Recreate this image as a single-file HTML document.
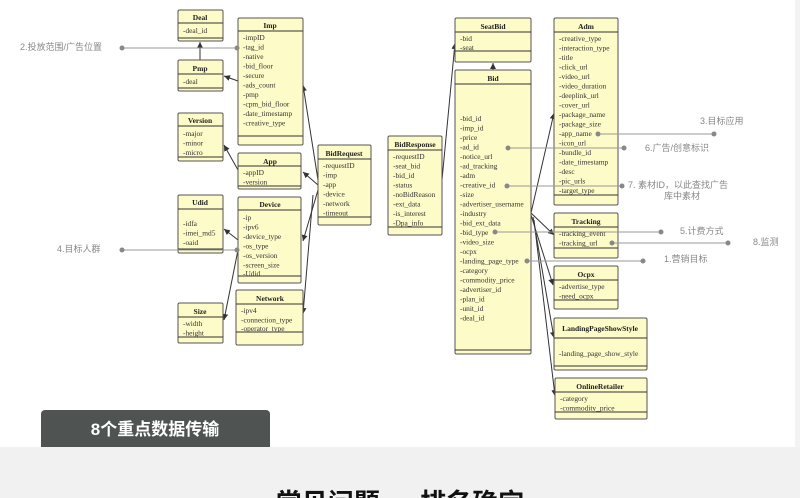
<!DOCTYPE html>
<html><head><meta charset="utf-8"><style>
html,body{margin:0;padding:0;width:800px;height:498px;overflow:hidden;background:#fff;position:relative}
svg.main{position:absolute;left:0;top:0}
.b{fill:#fdfbc7;stroke:#555;stroke-width:1}
.h{font:bold 7.5px "Liberation Serif",serif;fill:#222;text-anchor:middle}
.r{font:7.4px "Liberation Serif",serif;fill:#333}
.a{font:9px "Liberation Sans","Noto Sans CJK SC",sans-serif;fill:#888}
.l{stroke:#999;stroke-width:1}
.d{fill:#888}
.c{stroke:#333;stroke-width:1;fill:none}
.bot{position:absolute;left:0;top:478px;width:800px;height:20px;overflow:hidden}
.bot div{position:absolute;left:0;top:10px;width:800px;height:10px;line-height:30px;text-align:center;font:bold 26px/30px "Liberation Sans","Noto Sans CJK SC",sans-serif;color:#111;white-space:nowrap}
</style></head><body>
<svg class="main" width="800" height="498" viewBox="0 0 800 498" overflow="hidden">
<defs><marker id="m" markerWidth="7" markerHeight="7" refX="6" refY="3" orient="auto" markerUnits="userSpaceOnUse"><path d="M0,0L6,3L0,6z" fill="#333"/></marker></defs>
<rect x="0" y="447" width="800" height="51" fill="#f1f1f1"/>
<rect x="795" y="0" width="5" height="447" fill="#f3f3f3"/>

<g class="c" marker-end="url(#m)">
<line x1="200" y1="60" x2="200" y2="42"/>
<line x1="238" y1="81" x2="224" y2="76"/>
<line x1="318" y1="180" x2="303" y2="85"/>
<line x1="318" y1="185" x2="303" y2="172"/>
<line x1="238" y1="170" x2="224" y2="145"/>
<line x1="318" y1="190" x2="303" y2="241"/>
<line x1="313" y1="195" x2="303" y2="314"/>
<line x1="238" y1="240" x2="224" y2="229"/>
<line x1="238" y1="250" x2="224" y2="320"/>
<line x1="442" y1="180" x2="455" y2="43"/>
<line x1="493" y1="70" x2="493" y2="63"/>
<line x1="531" y1="213" x2="554" y2="113"/>
<line x1="531" y1="213" x2="554" y2="235"/>
<line x1="531" y1="215" x2="553" y2="285"/>
<line x1="533" y1="217" x2="554" y2="338"/>
<line x1="534" y1="220" x2="555" y2="396"/>
</g>

<g>
<rect class="b" x="178" y="10" width="45" height="31" rx="1.5"/><line class="c" x1="178" y1="23" x2="223" y2="23"/><line class="c" x1="178" y1="38" x2="223" y2="38"/>
<text class="h" x="200" y="20">Deal</text><text class="r" x="183" y="33">-deal_id</text>

<rect class="b" x="178" y="60" width="45" height="31" rx="1.5"/><line class="c" x1="178" y1="74" x2="223" y2="74"/><line class="c" x1="178" y1="88" x2="223" y2="88"/>
<text class="h" x="200" y="71">Pmp</text><text class="r" x="183" y="84">-deal</text>

<rect class="b" x="178" y="113" width="45" height="48" rx="1.5"/><line class="c" x1="178" y1="126" x2="223" y2="126"/><line class="c" x1="178" y1="157" x2="223" y2="157"/>
<text class="h" x="200" y="123">Version</text><text class="r" x="183" y="136">-major</text><text class="r" x="183" y="145.5">-minor</text><text class="r" x="183" y="155">-micro</text>

<rect class="b" x="178" y="195" width="45" height="58" rx="1.5"/><line class="c" x1="178" y1="209" x2="223" y2="209"/><line class="c" x1="178" y1="249" x2="223" y2="249"/>
<text class="h" x="200" y="205">Udid</text><text class="r" x="183" y="226">-idfa</text><text class="r" x="183" y="235.5">-imei_md5</text><text class="r" x="183" y="245">-oaid</text>

<rect class="b" x="178" y="303" width="45" height="40" rx="1.5"/><line class="c" x1="178" y1="317" x2="223" y2="317"/><line class="c" x1="178" y1="337" x2="223" y2="337"/>
<text class="h" x="200" y="314">Size</text><text class="r" x="183" y="326">-width</text><text class="r" x="183" y="335.5">-height</text>

<rect class="b" x="238" y="18" width="65" height="127" rx="1.5"/><line class="c" x1="238" y1="31" x2="303" y2="31"/><line class="c" x1="238" y1="136" x2="303" y2="136"/>
<text class="h" x="270" y="28">Imp</text>
<text class="r" x="243" y="40">-impID</text><text class="r" x="243" y="49.5">-tag_id</text><text class="r" x="243" y="59">-native</text><text class="r" x="243" y="68.5">-bid_floor</text><text class="r" x="243" y="78">-secure</text><text class="r" x="243" y="87.5">-ads_count</text><text class="r" x="243" y="97">-pmp</text><text class="r" x="243" y="106.5">-cpm_bid_floor</text><text class="r" x="243" y="116">-date_timestamp</text><text class="r" x="243" y="125.5">-creative_type</text>

<rect class="b" x="238" y="153" width="63" height="36" rx="1.5"/><line class="c" x1="238" y1="166" x2="301" y2="166"/><line class="c" x1="238" y1="186" x2="301" y2="186"/>
<text class="h" x="270" y="164">App</text><text class="r" x="243" y="175">-appID</text><text class="r" x="243" y="184.5">-version</text>

<rect class="b" x="238" y="197" width="63" height="86" rx="1.5"/><line class="c" x1="238" y1="210" x2="301" y2="210"/><line class="c" x1="238" y1="276" x2="301" y2="276"/>
<text class="h" x="270" y="207">Device</text>
<text class="r" x="243" y="220">-ip</text><text class="r" x="243" y="229.5">-ipv6</text><text class="r" x="243" y="239">-device_type</text><text class="r" x="243" y="248.5">-os_type</text><text class="r" x="243" y="258">-os_version</text><text class="r" x="243" y="267.5">-screen_size</text><text class="r" x="243" y="276">-Udid</text>

<rect class="b" x="236" y="290" width="67" height="55" rx="1.5"/><line class="c" x1="236" y1="304" x2="303" y2="304"/><line class="c" x1="236" y1="332" x2="303" y2="332"/>
<text class="h" x="270" y="301">Network</text><text class="r" x="241" y="313">-ipv4</text><text class="r" x="241" y="322.5">-connection_type</text><text class="r" x="241" y="331">-operator_type</text>

<rect class="b" x="318" y="145" width="53" height="80" rx="1.5"/><line class="c" x1="318" y1="159" x2="371" y2="159"/><line class="c" x1="318" y1="217" x2="371" y2="217"/>
<text class="h" x="344" y="156">BidRequest</text>
<text class="r" x="323" y="168">-requestID</text><text class="r" x="323" y="177.5">-imp</text><text class="r" x="323" y="187">-app</text><text class="r" x="323" y="196.5">-device</text><text class="r" x="323" y="206">-network</text><text class="r" x="323" y="215.5">-timeout</text>

<rect class="b" x="388" y="136" width="54" height="99" rx="1.5"/><line class="c" x1="388" y1="150" x2="442" y2="150"/><line class="c" x1="388" y1="227" x2="442" y2="227"/>
<text class="h" x="415" y="147">BidResponse</text>
<text class="r" x="393" y="159">-requestID</text><text class="r" x="393" y="168.5">-seat_bid</text><text class="r" x="393" y="178">-bid_id</text><text class="r" x="393" y="187.5">-status</text><text class="r" x="393" y="197">-noBidReason</text><text class="r" x="393" y="206.5">-ext_data</text><text class="r" x="393" y="216">-is_interest</text><text class="r" x="393" y="225.5">-Dpa_info</text>

<rect class="b" x="455" y="18" width="76" height="44" rx="1.5"/><line class="c" x1="455" y1="32" x2="531" y2="32"/><line class="c" x1="455" y1="51" x2="531" y2="51"/>
<text class="h" x="493" y="29">SeatBid</text><text class="r" x="460" y="41">-bid</text><text class="r" x="460" y="50">-seat</text>

<rect class="b" x="455" y="70" width="76" height="284" rx="1.5"/><line class="c" x1="455" y1="84" x2="531" y2="84"/><line class="c" x1="455" y1="350" x2="531" y2="350"/>
<text class="h" x="493" y="81">Bid</text>
<text class="r" x="460" y="121">-bid_id</text><text class="r" x="460" y="130.5">-imp_id</text><text class="r" x="460" y="140">-price</text><text class="r" x="460" y="149.5">-ad_id</text><text class="r" x="460" y="159">-notice_url</text><text class="r" x="460" y="168.5">-ad_tracking</text><text class="r" x="460" y="178">-adm</text><text class="r" x="460" y="187.5">-creative_id</text><text class="r" x="460" y="197">-size</text><text class="r" x="460" y="206.5">-advertiser_username</text><text class="r" x="460" y="216">-industry</text><text class="r" x="460" y="225.5">-bid_ext_data</text><text class="r" x="460" y="235">-bid_type</text><text class="r" x="460" y="244.5">-video_size</text><text class="r" x="460" y="254">-ocpx</text><text class="r" x="460" y="263.5">-landing_page_type</text><text class="r" x="460" y="273">-category</text><text class="r" x="460" y="282.5">-commodity_price</text><text class="r" x="460" y="292">-advertiser_id</text><text class="r" x="460" y="301.5">-plan_id</text><text class="r" x="460" y="311">-unit_id</text><text class="r" x="460" y="320.5">-deal_id</text>

<rect class="b" x="554" y="18" width="64" height="187" rx="1.5"/><line class="c" x1="554" y1="32" x2="618" y2="32"/><line class="c" x1="554" y1="195" x2="618" y2="195"/>
<text class="h" x="586" y="29">Adm</text>
<text class="r" x="559" y="41">-creative_type</text><text class="r" x="559" y="50.5">-interaction_type</text><text class="r" x="559" y="60">-title</text><text class="r" x="559" y="69.5">-click_url</text><text class="r" x="559" y="79">-video_url</text><text class="r" x="559" y="88.5">-video_duration</text><text class="r" x="559" y="98">-deeplink_url</text><text class="r" x="559" y="107.5">-cover_url</text><text class="r" x="559" y="117">-package_name</text><text class="r" x="559" y="126.5">-package_size</text><text class="r" x="559" y="136">-app_name</text><text class="r" x="559" y="145.5">-icon_url</text><text class="r" x="559" y="155">-bundle_id</text><text class="r" x="559" y="164.5">-date_timestamp</text><text class="r" x="559" y="174">-desc</text><text class="r" x="559" y="183.5">-pic_urls</text><text class="r" x="559" y="193">-target_type</text>

<rect class="b" x="554" y="213" width="64" height="45" rx="1.5"/><line class="c" x1="554" y1="227" x2="618" y2="227"/><line class="c" x1="554" y1="248" x2="618" y2="248"/>
<text class="h" x="586" y="224">Tracking</text><text class="r" x="559" y="236">-tracking_event</text><text class="r" x="559" y="245.5">-tracking_url</text>

<rect class="b" x="554" y="266" width="64" height="43" rx="1.5"/><line class="c" x1="554" y1="280" x2="618" y2="280"/><line class="c" x1="554" y1="300" x2="618" y2="300"/>
<text class="h" x="586" y="277">Ocpx</text><text class="r" x="559" y="289">-advertise_type</text><text class="r" x="559" y="298.5">-need_ocpx</text>

<rect class="b" x="554" y="318" width="93" height="52" rx="1.5"/><line class="c" x1="554" y1="338" x2="647" y2="338"/><line class="c" x1="554" y1="366" x2="647" y2="366"/>
<text class="h" x="600" y="331">LandingPageShowStyle</text><text class="r" x="559" y="356">-landing_page_show_style</text>

<rect class="b" x="555" y="378" width="92" height="41" rx="1.5"/><line class="c" x1="555" y1="392" x2="647" y2="392"/><line class="c" x1="555" y1="412" x2="647" y2="412"/>
<text class="h" x="600" y="389">OnlineRetailer</text><text class="r" x="560" y="401">-category</text><text class="r" x="560" y="410.5">-commodity_price</text>
</g>

<g>
<line class="l" x1="122" y1="48" x2="237" y2="48"/><circle class="d" cx="122" cy="48" r="2.5"/><circle class="d" cx="237" cy="48" r="2.5"/>
<text class="a" x="20" y="50">2.投放范围/广告位置</text>
<line class="l" x1="122" y1="250" x2="237" y2="250"/><circle class="d" cx="122" cy="250" r="2.5"/><circle class="d" cx="237" cy="250" r="2.5"/>
<text class="a" x="57" y="252">4.目标人群</text>
<line class="l" x1="598" y1="134" x2="714" y2="134"/><circle class="d" cx="598" cy="134" r="2.5"/><circle class="d" cx="714" cy="134" r="2.5"/>
<text class="a" x="700" y="124">3.目标应用</text>
<line class="l" x1="508" y1="148" x2="624" y2="148"/><circle class="d" cx="508" cy="148" r="2.5"/><circle class="d" cx="624" cy="148" r="2.5"/>
<text class="a" x="645" y="151">6.广告/创意标识</text>
<line class="l" x1="507" y1="186" x2="622" y2="186"/><circle class="d" cx="507" cy="186" r="2.5"/><circle class="d" cx="622" cy="186" r="2.5"/>
<text class="a" x="628" y="188">7. 素材ID，以此查找广告</text><text class="a" x="664" y="199">库中素材</text>
<line class="l" x1="495" y1="232" x2="661" y2="232"/><circle class="d" cx="495" cy="232" r="2.5"/><circle class="d" cx="661" cy="232" r="2.5"/>
<text class="a" x="680" y="234">5.计费方式</text>
<line class="l" x1="612" y1="243" x2="728" y2="243"/><circle class="d" cx="612" cy="243" r="2.5"/><circle class="d" cx="728" cy="243" r="2.5"/>
<text class="a" x="753" y="245">8.监测</text>
<line class="l" x1="527" y1="261" x2="643" y2="261"/><circle class="d" cx="527" cy="261" r="2.5"/><circle class="d" cx="643" cy="261" r="2.5"/>
<text class="a" x="664" y="262">1.营销目标</text>
</g>

<path d="M41,447V414a4,4 0 0 1 4,-4H266a4,4 0 0 1 4,4V447z" fill="#4f5453"/>
<text x="155" y="435" text-anchor="middle" style="font:bold 17px 'Liberation Sans','Noto Sans CJK SC',sans-serif;fill:#fff">8个重点数据传输</text>
</svg>
<div class="bot"><div>常见问题 ··· 排名确定</div></div>
</body></html>
